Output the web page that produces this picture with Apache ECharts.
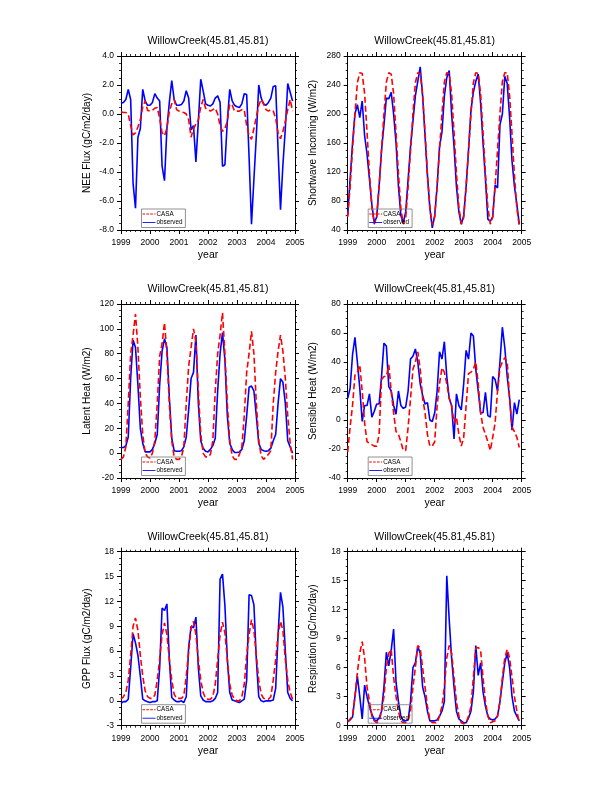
<!DOCTYPE html>
<html><head><meta charset="utf-8">
<script src="https://cdn.jsdelivr.net/npm/echarts@6/dist/echarts.min.js"></script>
<style>html,body{margin:0;padding:0;background:#fff}#c{width:612px;height:792px}</style>
</head><body><div id="c"></div>
<script>
// ---- data (monthly, Jan 1999 .. Dec 2004) ----
const startYear = 1999;
const endYear = 2005;
const seriesNames = ['CASA', 'observed'];
const titleText = 'WillowCreek(45.81,45.81)';

const neeCasa = [0.15,0.1,0.1,0.0,-0.8,-1.45,-1.3,-0.9,-0.4,0.5,0.9,0.25,
  0.2,0.25,0.4,0.45,-0.3,-1.3,-1.5,-1.0,0.2,0.7,1.0,0.3,
  0.2,0.15,0.1,0.0,-0.4,-1.6,-1.0,-0.7,-0.4,0.5,1.0,0.4,
  0.3,0.2,0.3,0.4,0.0,-0.8,-1.2,-1.0,-0.5,0.7,0.6,0.2,
  0.2,0.2,0.3,0.3,-0.8,-1.5,-1.75,-1.0,-0.2,0.6,1.0,0.7,
  0.3,0.2,0.3,0.2,-0.3,-1.3,-1.7,-1.2,-0.5,0.3,1.0,0.2];
const neeObs = [0.75,0.8,1.0,1.7,1.0,-4.8,-6.5,-1.6,-1.0,1.7,0.9,0.6,
  0.6,0.8,1.4,1.1,0.9,-3.6,-4.6,-1.0,0.8,2.3,1.0,0.6,
  0.6,0.65,0.9,1.6,1.1,-1.1,-0.8,-3.3,-0.5,2.4,1.6,0.7,
  0.6,0.55,0.7,1.1,1.25,0.8,-3.6,-3.5,-0.5,1.7,0.9,0.6,
  0.5,0.45,0.7,1.4,1.35,-3.0,-7.6,-4.5,-1.5,2.0,1.1,0.7,
  0.6,0.8,1.1,1.9,1.95,-2.5,-6.6,-3.5,-1.0,2.1,1.5,0.9];

const swCasa = [58,100,152,200,243,257,256,228,175,118,72,48,
  58,101,150,200,244,257,255,228,174,118,70,48,
  57,100,150,201,243,257,256,227,175,117,71,47,
  58,100,151,200,244,257,256,228,175,118,72,48,
  57,100,150,200,243,257,256,228,174,118,71,48,
  58,101,150,200,245,257,257,225,172,115,70,46];
const swObs = [60,110,160,200,213,195,218,170,145,110,75,50,
  58,100,150,185,222,221,230,200,160,100,60,50,
  65,110,155,190,225,245,265,225,170,115,70,43,
  60,100,155,175,225,250,260,200,155,100,65,48,
  60,100,150,205,230,245,255,215,160,110,55,52,
  58,102,98,185,200,252,242,195,135,100,75,48];

const lhCasa = [-5,-3,5,40,80,95,112,85,45,15,0,-3,
  -4,0,10,40,78,88,105,80,40,10,-3,-5,
  -5,-3,5,40,70,85,100,90,50,15,0,-3,
  -3,-1,10,50,80,95,113,80,40,10,-2,-5,
  -5,-1,5,30,65,80,98,80,40,10,-2,-5,
  -3,-1,2,40,65,82,95,82,60,30,8,-5];
const lhObs = [4.5,4.5,6,13,60,91,85,55,20,8,1,1,
  1,3,8,15,55,82,92,85,45,12,2,1.5,
  1.5,2,5,13,35,60,65,95,40,10,4,1.5,
  1,3,6,12,50,80,97,75,30,8,3,0.5,
  0.5,1,3,10,30,53,54,50,30,8,3,2,
  1.5,2,4,10,15,40,60,57,40,10,5,0];

const shCasa = [-22,-5,10,31,33,38,20,-2,-15,-16,-17,-18,
  -18,-10,28,30,30,38,20,5,-8,-10,-15,-21,
  -21,-5,15,35,40,47,35,15,5,-10,-18,-18,
  -15,10,25,36,33,25,15,10,-2,2,-10,-18,
  -12,10,32,33,35,40,25,5,-5,-10,-15,-21,
  -12,-2,20,36,40,43,40,15,-5,-8,-12,-19];
const shObs = [15,22,45,57,40,22,-1,10,10,18,2,6,
  11,11,30,53,51,23,20,10,4,20,10,8,
  9,20,42,44,49,40,25,17,11,12,0,-1,
  5,20,47,42,54,30,15,10,-13,18,10,7,
  25,48,42,60,58,35,20,5,5,19,3,2,
  30,28,20,40,64,50,30,15,-7,12,4,14];

const gppCasa = [0.2,0.5,1.0,2.5,5.5,9.0,10.0,8.5,5.5,3.0,1.2,0.5,
  0.3,0.3,0.7,2.5,5.0,8.0,9.4,8.0,5.0,2.5,0.8,0.3,
  0.3,0.3,0.6,3.0,6.0,8.8,9.6,8.0,5.0,2.5,1.0,0.3,
  0.2,0.2,0.5,2.0,5.0,8.0,9.5,8.2,5.0,2.0,0.7,0.2,
  0.0,0.0,0.5,2.0,5.5,8.0,9.8,8.5,5.5,2.5,0.8,0.3,
  0.2,0.2,0.5,2.5,5.0,8.0,9.6,8.5,5.0,2.5,1.0,0.2];
const gppObs = [-0.3,-0.1,-0.1,0.2,4.0,8.1,7.0,5.5,3.0,0.2,0.0,-0.1,
  -0.2,-0.1,-0.1,0.0,4.0,11.2,10.9,11.7,5.0,0.4,0.1,-0.1,
  -0.1,0.0,-0.2,0.5,6.5,9.0,8.8,10.1,4.0,0.6,0.1,-0.1,
  -0.1,-0.1,0.0,0.3,1.0,14.7,15.3,11.5,5.0,1.0,0.1,0.0,
  -0.1,-0.2,0.0,0.2,2.5,12.8,12.7,11.6,5.0,0.5,0.0,-0.1,
  0.0,0.0,0.0,0.1,1.5,8.0,13.1,11.3,6.0,1.0,0.3,0.0];

const respCasa = [0.4,0.7,1.0,3.0,5.5,7.5,8.7,7.0,4.0,2.5,1.0,0.5,
  0.3,0.5,1.5,3.0,6.0,7.5,7.9,5.0,3.0,1.5,0.5,0.3,
  0.3,0.5,1.5,4.0,6.0,8.3,8.0,6.0,4.0,2.0,0.6,0.3,
  0.3,0.3,1.0,2.0,4.0,7.0,8.3,7.5,5.0,2.5,1.0,0.3,
  0.2,0.3,1.0,2.0,5.0,8.0,8.1,7.8,5.0,2.5,1.0,0.3,
  0.4,0.5,1.0,2.5,5.0,7.0,7.9,7.0,5.0,3.0,1.5,0.3];
const respObs = [0.4,0.6,0.9,3.0,5.1,3.0,0.7,4.2,3.0,2.0,1.2,0.6,
  0.5,0.8,1.5,4.0,7.6,6.2,7.8,10.0,4.5,2.5,1.0,0.5,
  0.5,0.6,2.5,6.0,6.5,8.2,7.5,4.0,3.0,1.5,0.5,0.5,
  0.5,0.6,1.0,1.5,2.5,15.5,11.0,7.0,4.0,1.5,0.7,0.5,
  0.3,0.3,0.8,1.5,3.5,8.3,5.2,6.5,3.5,2.0,1.0,0.7,
  0.6,0.7,1.0,2.5,4.5,6.5,7.5,6.0,3.0,1.5,1.0,0.5];

// ---- layout ----
const FONT = '"Liberation Sans", Arial, Helvetica, sans-serif';
const PW = 174, PH = 174;
const cols = [121, 347.7];
const rows = [56, 304, 551.7];

const panels = [
  {yName:'NEE Flux (gC/m2/day)', min:-8, max:4, interval:2, dec:1, casa:neeCasa, obs:neeObs},
  {yName:'Shortwave Incoming (W/m2)', min:40, max:280, interval:40, dec:0, casa:swCasa, obs:swObs},
  {yName:'Latent Heat (W/m2)', min:-20, max:120, interval:20, dec:0, casa:lhCasa, obs:lhObs},
  {yName:'Sensible Heat (W/m2)', min:-40, max:80, interval:20, dec:0, casa:shCasa, obs:shObs},
  {yName:'GPP Flux (gC/m2/day)', min:-3, max:18, interval:3, dec:0, casa:gppCasa, obs:gppObs},
  {yName:'Respiration (gC/m2/day)', min:0, max:18, interval:3, dec:0, casa:respCasa, obs:respObs}
];

const toXY = arr => arr.map((v, k) => [startYear + k / 12, v]);

const dashIcon = 'path://M0 0h6v2h-6z M9 0h6v2h-6z M18 0h6v2h-6z M27 0h3v2h-3z';
const solidIcon = 'path://M0 0h30v2h-30z';

const grid = [], xAxis = [], yAxis = [], series = [], legend = [], graphic = [];
const axisLineStyle = {show:true, onZero:false, lineStyle:{color:'#000', width:1}};
const tickStyle = {show:true, inside:false, length:4, lineStyle:{color:'#000', width:1}};
const minorStyle = n => ({show:true, splitNumber:n, length:2, lineStyle:{color:'#000', width:0.8}});

panels.forEach((p, i) => {
  const left = cols[i % 2], top = rows[Math.floor(i / 2)];
  grid.push({left:left, top:top, width:PW, height:PH, containLabel:false, show:false});
  const xBase = {type:'value', gridIndex:i, min:startYear, max:endYear, interval:1,
    axisLine:axisLineStyle, axisTick:tickStyle, minorTick:minorStyle(6),
    splitLine:{show:false}, minorSplitLine:{show:false}};
  xAxis.push(Object.assign({}, xBase, {position:'bottom',
    name:'year', nameLocation:'middle', nameGap:20,
    nameTextStyle:{fontFamily:FONT, fontSize:10.5, color:'#000'},
    axisLabel:{show:true, margin:8, fontFamily:FONT, fontSize:8.5, color:'#000', formatter: v => String(v)}}));
  xAxis.push(Object.assign({}, xBase, {position:'top', axisLabel:{show:false}}));
  const yBase = {type:'value', gridIndex:i, min:p.min, max:p.max, interval:p.interval,
    axisLine:axisLineStyle, axisTick:tickStyle, minorTick:minorStyle(4),
    splitLine:{show:false}, minorSplitLine:{show:false}};
  yAxis.push(Object.assign({}, yBase, {position:'left',
    name:p.yName, nameLocation:'middle', nameGap:29, nameRotate:90,
    nameTextStyle:{fontFamily:FONT, fontSize:10, color:'#000'},
    axisLabel:{show:true, margin:7, fontFamily:FONT, fontSize:8.5, color:'#000',
      formatter: v => v.toFixed(p.dec)}}));
  yAxis.push(Object.assign({}, yBase, {position:'right', axisLabel:{show:false}}));

  series.push({name:seriesNames[1], type:'line', xAxisIndex:2*i, yAxisIndex:2*i,
    data:toXY(p.obs), showSymbol:false, symbol:'none', clip:true, z:2,
    lineStyle:{color:'#0000ff', width:1.6, type:'solid'}, itemStyle:{color:'#0000ff'}});
  series.push({name:seriesNames[0], type:'line', xAxisIndex:2*i, yAxisIndex:2*i,
    data:toXY(p.casa), showSymbol:false, symbol:'none', clip:true, z:3,
    lineStyle:{color:'#ff0000', width:1.6, type:[6,3]}, itemStyle:{color:'#ff0000'}});

  legend.push({data:[{name:seriesNames[0], icon:dashIcon}, {name:seriesNames[1], icon:solidIcon}],
    orient:'vertical', left:left + 20.5, top:top + 153, itemWidth:13, itemHeight:1.6, itemGap:2.5,
    padding:[2,3,2,1], borderColor:'#777', borderWidth:0.8, selectedMode:false,
    itemStyle:{borderWidth:0}, lineStyle:{width:0},
    textStyle:{fontFamily:FONT, fontSize:6.3, color:'#000', padding:[0,0,0,-4]}});

  graphic.push({type:'text', x:left + PW / 2, y:top - 15,
    style:{text:titleText, font:'10.5px ' + FONT, fill:'#000', align:'center', verticalAlign:'middle',
      textAlign:'center', textVerticalAlign:'middle'}});
});

const chart = echarts.init(document.getElementById('c'), null, {renderer:'canvas'});
chart.setOption({animation:false, backgroundColor:'#fff', grid, xAxis, yAxis, series, legend, graphic});
</script>
</body></html>
